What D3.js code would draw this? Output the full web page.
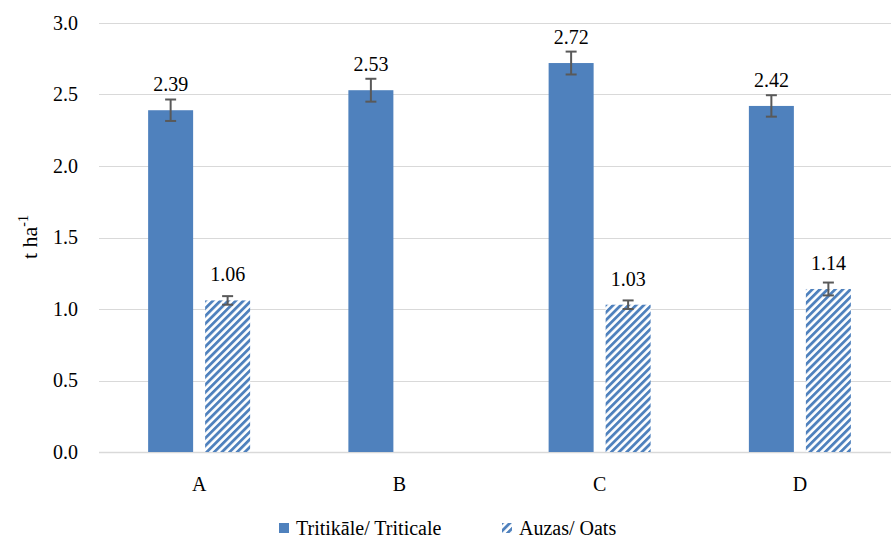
<!DOCTYPE html>
<html>
<head>
<meta charset="utf-8">
<script src="https://cdn.jsdelivr.net/npm/d3@7/dist/d3.min.js"></script>
</head>
<body style="margin:0">
<svg id="chart" width="891" height="542" font-family="Liberation Serif"></svg>
<script>
// Yield per treatment, t/ha
const categories = ["A", "B", "C", "D"];
const triticale = [2.39, 2.53, 2.72, 2.42];
const triticaleErr = [0.075, 0.08, 0.08, 0.075];
const oats = [1.06, null, 1.03, 1.14];
const oatsErr = [0.03, null, 0.03, 0.045];
const yTicks = [0, 0.5, 1.0, 1.5, 2.0, 2.5, 3.0];
const seriesNames = ["Tritikāle/ Triticale", "Auzas/ Oats"];

const blue = "#4F81BD";
const svg = d3.select("#chart");
const label = sel => sel.attr("font-family", "Liberation Serif")
  .style("font-family", "Liberation Serif, Tinos, serif").attr("fill", "#000");

const plot = { left: 99, right: 900, top: 23, bottom: 452 };

const x = d3.scaleBand().domain(categories).range([plot.left, plot.right]);
const y = d3.scaleLinear().domain([0, 3]).range([plot.bottom, plot.top]);
const barW = 45, gap = 12;

// diagonal hatch used for the oats series
const defs = svg.append("defs");
defs.append("pattern")
  .attr("id", "hatch")
  .attr("patternUnits", "userSpaceOnUse")
  .attr("width", 5.4).attr("height", 5.4)
  .attr("patternTransform", "rotate(45)")
  .call(p => {
    p.append("rect").attr("width", 5.4).attr("height", 5.4).attr("fill", "#fff");
    p.append("rect").attr("width", 2.8).attr("height", 5.4).attr("fill", blue);
  });

// gridlines
svg.append("g").selectAll("line").data(yTicks).join("line")
  .attr("x1", plot.left).attr("x2", plot.right)
  .attr("y1", d => Math.round(y(d)) + 0.5).attr("y2", d => Math.round(y(d)) + 0.5)
  .attr("stroke", "#d9d9d9").attr("stroke-width", d => d === 0 ? 1.5 : 1.2);

// y tick labels
svg.append("g").selectAll("text").data(yTicks).join("text")
  .attr("x", 78).attr("y", d => y(d) + 6.5)
  .attr("text-anchor", "end").attr("font-size", 20)
  .call(label)
  .text(d => d3.format(".1f")(d));

// y axis title
svg.append("text")
  .attr("transform", "translate(37,237) rotate(-90)")
  .attr("text-anchor", "middle").attr("font-size", 22)
  .call(label)
  .call(t => {
    t.append("tspan").text("t ha");
    t.append("tspan").attr("font-size", 14).attr("dy", -9).text("-1");
  });

// x category labels
svg.append("g").selectAll("text").data(categories).join("text")
  .attr("x", d => x(d) + x.bandwidth() / 2).attr("y", 491)
  .attr("text-anchor", "middle").attr("font-size", 20)
  .call(label)
  .text(d => d);

const series = [
  { values: triticale, err: triticaleErr, offset: -(gap / 2 + barW), fill: blue },
  { values: oats, err: oatsErr, offset: gap / 2, fill: "url(#hatch)" }
];

series.forEach(s => {
  const items = categories.map((c, i) => ({ c, v: s.values[i], e: s.err[i] }))
    .filter(d => d.v != null);
  const g = svg.append("g");
  const cx = d => x(d.c) + x.bandwidth() / 2 + s.offset + barW / 2;

  g.selectAll("rect").data(items).join("rect")
    .attr("x", d => x(d.c) + x.bandwidth() / 2 + s.offset)
    .attr("y", d => y(d.v)).attr("width", barW)
    .attr("height", d => y(0) - y(d.v))
    .attr("fill", s.fill);

  // error bars
  const eb = g.selectAll("g.err").data(items).join("g").attr("class", "err")
    .attr("stroke", "#595959").attr("stroke-width", 2);
  eb.append("line")
    .attr("x1", cx).attr("x2", cx)
    .attr("y1", d => y(d.v + d.e)).attr("y2", d => y(d.v - d.e));
  [1, -1].forEach(sign => {
    eb.append("line")
      .attr("x1", d => cx(d) - 5.5).attr("x2", d => cx(d) + 5.5)
      .attr("y1", d => y(d.v + sign * d.e)).attr("y2", d => y(d.v + sign * d.e));
  });

  // value labels
  g.selectAll("text").data(items).join("text")
    .attr("x", cx).attr("y", d => y(d.v) - 19)
    .attr("text-anchor", "middle").attr("font-size", 20)
    .call(label)
    .text(d => d3.format(".2f")(d.v));
});

// legend
const legend = svg.append("g");
const legendItems = [
  { name: seriesNames[0], fill: blue, x: 279 },
  { name: seriesNames[1], fill: "url(#hatch)", x: 502 }
];
legendItems.forEach(li => {
  legend.append("rect").attr("x", li.x).attr("y", 523).attr("width", 10).attr("height", 10)
    .attr("fill", li.fill);
  legend.append("text").attr("x", li.x + 17).attr("y", 535).attr("font-size", 20)
    .call(label).text(li.name);
});
</script>
</body>
</html>
